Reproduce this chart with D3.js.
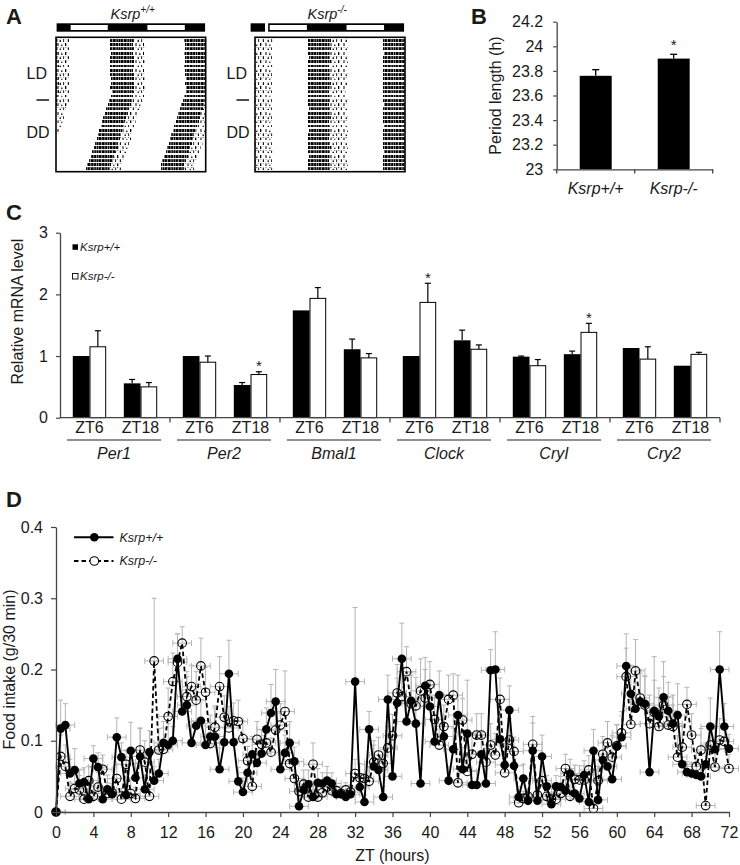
<!DOCTYPE html>
<html>
<head>
<meta charset="utf-8">
<script src="https://cdn.jsdelivr.net/npm/d3@7/dist/d3.min.js"></script>
<style>
body{margin:0;background:#fff;}
svg{display:block;}
text{font-family:"Liberation Sans",Arial,Helvetica,sans-serif;fill:#1a1a1a;}
</style>
</head>
<body>
<svg id="fig" width="740" height="865"></svg>
<script>
// ================= DATA =================
// Panel A: actogram activity bands (hours across a 48 h double plot), one entry per day row
const wtOnset  = [17.4,17.2,17.3,17.5,17.2,17.3,17.4,17.2,17.3,17.5,17.6,17.4,17.8,17.6,17.0,16.6,16.1,15.7,15.2,14.8,14.4,13.9,13.5,13.0,12.5,12.1,11.6,11.2,10.6,10.1,9.6];
const wtOffset = [24.8,24.6,25.0,24.7,24.9,25.1,24.6,24.8,24.9,25.0,24.7,24.9,24.8,24.6,24.3,23.9,23.5,23.0,22.6,22.1,21.8,21.3,20.9,20.4,19.9,19.6,19.0,18.7,18.2,17.6,17.2];
const koOnset  = [17.0,17.1,16.9,17.0,17.2,17.0,16.9,17.1,17.0,16.8,17.0,17.1,17.0,16.9,17.1,17.0,17.2,17.0,16.9,17.1,17.0,17.2,17.1,16.9,17.0,17.1,17.0,17.2,17.1,17.0,16.9];
const koOffset = [24.2,24.0,24.3,23.9,24.1,24.2,23.8,24.0,24.1,23.9,24.2,24.0,23.7,23.9,24.1,23.8,24.0,23.9,24.2,23.8,24.0,24.1,23.9,23.8,24.0,24.2,23.9,24.0,23.8,24.1,24.0];
const wtSparseTail = 3.5;
const koSparseTail = 5.5;
const lightsOn  = [4.7, 29.3];
const lightsOff = [16.6, 41.3];

// Panel B: free-running period
const genotypes   = ["Ksrp+/+", "Ksrp-/-"];
const periodMean  = [23.76, 23.90];
const periodErr   = [0.05, 0.035];
const periodTicks = [23, 23.2, 23.4, 23.6, 23.8, 24, 24.2];
const periodTickLabels = ["23", "23.2", "23.4", "23.6", "23.8", "24", "24.2"];

// Panel C: relative mRNA levels
const genes      = ["Per1", "Per2", "Bmal1", "Clock", "CryI", "Cry2"];
const timepoints = ["ZT6", "ZT18"];
const wtZT6      = [1.00, 1.00, 1.74, 1.00, 0.99, 1.13];
const wtZT6Err   = [0, 0, 0, 0, 0.01, 0];
const koZT6      = [1.15, 0.90, 1.935, 1.87, 0.843, 0.95];
const koZT6Err   = [0.26, 0.10, 0.175, 0.31, 0.10, 0.20];
const wtZT18     = [0.557, 0.53, 1.11, 1.255, 1.03, 0.843];
const wtZT18Err  = [0.063, 0.04, 0.165, 0.165, 0.05, 0];
const koZT18     = [0.50, 0.70, 0.97, 1.11, 1.384, 1.027];
const koZT18Err  = [0.07, 0.045, 0.07, 0.07, 0.146, 0.033];
const mrnaTicks  = [0, 1, 2, 3];
const starGene   = ["Per2", "Clock", "CryI"];
const starZT     = ["ZT18", "ZT6", "ZT18"];

// Panel D: food intake every 30 min
const ztHours = [0,0.5,1,1.5,2,2.5,3,3.5,4,4.5,5,5.5,6,6.5,7,7.5,8,8.5,9,9.5,10,10.5,11,11.5,12,12.5,13,13.5,14,14.5,15,15.5,16,16.5,17,17.5,18,18.5,19,19.5,20,20.5,21,21.5,22,22.5,23,23.5,24,24.5,25,25.5,26,26.5,27,27.5,28,28.5,29,29.5,30,30.5,31,31.5,32,32.5,33,33.5,34,34.5,35,35.5,36,36.5,37,37.5,38,38.5,39,39.5,40,40.5,41,41.5,42,42.5,43,43.5,44,44.5,45,45.5,46,46.5,47,47.5,48,48.5,49,49.5,50,50.5,51,51.5,52,52.5,53,53.5,54,54.5,55,55.5,56,56.5,57,57.5,58,58.5,59,59.5,60,60.5,61,61.5,62,62.5,63,63.5,64,64.5,65,65.5,66,66.5,67,67.5,68,68.5,69,69.5,70,70.5,71,71.5,72];
const wtIntake = [0,0.117,0.122,0.054,0.059,0.040,0.042,0.018,0.075,0.063,0.018,0.032,0.025,0.105,0.077,0.024,0.086,0.048,0.078,0.032,0.084,0.044,0.054,0.097,0.094,0.100,0.215,0.141,0.150,0.097,0.121,0.128,0.094,0.106,0.106,0.060,0.098,0.194,0.098,0.043,0.028,0.055,0.081,0.069,0.082,0.116,0.139,0.155,0.060,0.083,0.097,0.071,0.008,0.031,0.039,0.021,0.041,0.040,0.044,0.040,0.025,0.025,0.021,0.025,0.183,0.035,0.014,0.116,0.064,0.059,0.021,0.158,0.050,0.153,0.215,0.127,0.156,0.124,0.040,0.177,0.148,0.099,0.164,0.106,0.044,0.088,0.136,0.060,0.110,0.038,0.038,0.081,0.040,0.199,0.200,0.102,0.066,0.143,0.065,0.021,0.047,0.016,0.086,0.016,0.078,0.036,0.011,0.036,0.035,0.030,0.054,0.026,0.019,0.052,0.014,0.086,0.017,0.073,0.064,0.046,0.092,0.105,0.205,0.166,0.145,0.155,0.152,0.056,0.142,0.134,0.161,0.142,0.124,0.136,0.067,0.056,0.054,0.052,0.050,0.067,0.120,0.088,0.200,0.120,0.089];
const wtIntakeErr = [0.005,0.04,0.03,0.02,0.03,0.02,0.02,0.015,0.018,0.02,0.015,0.02,0.015,0.027,0.02,0.015,0.04,0.02,0.04,0.02,0.03,0.02,0.02,0.03,0.03,0.02,0.035,0.03,0.04,0.03,0.04,0.03,0.03,0.03,0.04,0.03,0.03,0.047,0.03,0.02,0.02,0.02,0.025,0.02,0.025,0.03,0.04,0.045,0.02,0.025,0.03,0.02,0.01,0.015,0.02,0.015,0.02,0.015,0.02,0.015,0.01,0.01,0.01,0.01,0.104,0.015,0.01,0.025,0.03,0.02,0.015,0.034,0.02,0.035,0.05,0.03,0.04,0.03,0.02,0.04,0.035,0.03,0.034,0.03,0.02,0.03,0.056,0.03,0.075,0.02,0.02,0.03,0.02,0.029,0.053,0.03,0.03,0.034,0.02,0.015,0.02,0.01,0.048,0.01,0.03,0.015,0.01,0.015,0.015,0.015,0.02,0.015,0.01,0.02,0.01,0.03,0.01,0.025,0.02,0.02,0.03,0.03,0.045,0.04,0.035,0.04,0.04,0.02,0.076,0.04,0.05,0.04,0.04,0.044,0.02,0.015,0.015,0.015,0.015,0.03,0.04,0.03,0.053,0.032,0.02];
const koIntake = [0,0.078,0.064,0.022,0.033,0.031,0.018,0.044,0.022,0.035,0.060,0.026,0.027,0.047,0.018,0.067,0.026,0.019,0.087,0.070,0.022,0.212,0.087,0.088,0.134,0.183,0.210,0.237,0.162,0.176,0.157,0.205,0.168,0.096,0.119,0.176,0.133,0.118,0.128,0.127,0.103,0.072,0.036,0.102,0.095,0.097,0.084,0.115,0.122,0.141,0.068,0.047,0.029,0.039,0.021,0.067,0.021,0.027,0.035,0.030,0.030,0.026,0.031,0.028,0.054,0.048,0.047,0.043,0.070,0.080,0.068,0.090,0.107,0.167,0.162,0.197,0.152,0.149,0.170,0.160,0.179,0.130,0.094,0.120,0.158,0.164,0.041,0.129,0.057,0.081,0.108,0.108,0.070,0.094,0.080,0.158,0.055,0.101,0.085,0.013,0.019,0.022,0.095,0.024,0.044,0.022,0.018,0.018,0.026,0.061,0.022,0.046,0.045,0.045,0.059,0.005,0.044,0.081,0.097,0.077,0.093,0.111,0.190,0.123,0.198,0.160,0.150,0.124,0.140,0.120,0.150,0.122,0.120,0.077,0.091,0.151,0.108,0.064,0.087,0.009,0.094,0.063,0.101,0.099,0.061];
const koIntakeErr = [0.005,0.03,0.03,0.02,0.02,0.02,0.02,0.02,0.015,0.02,0.02,0.015,0.02,0.02,0.015,0.02,0.02,0.015,0.03,0.03,0.015,0.088,0.03,0.03,0.04,0.04,0.04,0.023,0.035,0.03,0.04,0.039,0.035,0.03,0.03,0.042,0.03,0.03,0.025,0.03,0.025,0.02,0.02,0.025,0.02,0.02,0.02,0.03,0.03,0.057,0.02,0.02,0.015,0.02,0.015,0.03,0.015,0.015,0.02,0.015,0.01,0.01,0.01,0.01,0.02,0.02,0.02,0.02,0.03,0.025,0.02,0.03,0.03,0.04,0.04,0.035,0.04,0.04,0.045,0.04,0.032,0.03,0.03,0.03,0.034,0.03,0.02,0.03,0.02,0.03,0.03,0.03,0.02,0.03,0.03,0.03,0.02,0.03,0.02,0.01,0.01,0.01,0.03,0.01,0.02,0.01,0.01,0.01,0.015,0.02,0.01,0.02,0.02,0.02,0.02,0.005,0.02,0.025,0.03,0.03,0.03,0.03,0.04,0.035,0.044,0.04,0.04,0.04,0.045,0.04,0.04,0.04,0.03,0.03,0.03,0.024,0.03,0.02,0.03,0.005,0.03,0.02,0.03,0.03,0.02];
const ztTimeErr = 1;
const ztTicks   = [0,4,8,12,16,20,24,28,32,36,40,44,48,52,56,60,64,68,72];
const intakeTicks = [0, 0.1, 0.2, 0.3, 0.4];

// ================= DRAWING =================
const svg = d3.select("#fig");
const defs = svg.append("defs");
// textures for actogram activity (style only)
const pDense = defs.append("pattern").attr("id","dense").attr("patternUnits","userSpaceOnUse").attr("width",11).attr("height",8.6);
[[0,0,2.6,4.3],[3.2,0,2.4,4.3],[6.1,0,2.1,4.3],[8.7,0,1.8,4.3],[0,4.3,1.9,4.3],[2.6,4.3,3.1,4.3],[6.3,4.3,1.6,4.3],[8.4,4.3,2.2,4.3]]
  .forEach(([x,y,w,h]) => pDense.append("rect").attr("x",x).attr("y",y).attr("width",w).attr("height",h).attr("fill","#000"));
const pSparse = defs.append("pattern").attr("id","sparse").attr("patternUnits","userSpaceOnUse").attr("width",13).attr("height",8.6);
[[0,0,1.3,4.3],[5.5,0,1,4.3],[9.2,1.5,1.2,2.8],[2.8,4.3,1.1,4.3],[7.6,5.5,1.3,3.1],[11.2,4.3,0.9,4.3]]
  .forEach(([x,y,w,h]) => pSparse.append("rect").attr("x",x).attr("y",y).attr("width",w).attr("height",h).attr("fill","#000"));

function panelLetter(txt, x, y) {
  svg.append("text").attr("x", x).attr("y", y).attr("font-size", 22).attr("font-weight", "bold").attr("fill","#000").text(txt);
}

// ---------- Panel A ----------
panelLetter("A", 6, 23.5);
function actogram(x0, x1, onsets, offsets, tail) {
  const g = svg.append("g");
  const x = d3.scaleLinear().domain([0, 48]).range([x0, x1]);
  const y = d3.scaleBand().domain(d3.range(onsets.length)).range([38.4, 170.8]).paddingInner(0.32).paddingOuter(0.1);
  const n = onsets.length;
  onsets.forEach((on, r) => {
    const days = [
      {s: -24, on: onsets[Math.max(r - 1, 0)], off: offsets[Math.max(r - 1, 0)]},
      {s: 0, on: onsets[r], off: offsets[r]},
      {s: 24, on: onsets[Math.min(r + 1, n - 1)], off: offsets[Math.min(r + 1, n - 1)]}
    ];
    days.forEach(d => {
      [[d.on + d.s, d.off + d.s, "dense"], [d.off + d.s, d.off + d.s + tail, "sparse"]].forEach(([a, b, k]) => {
        const a2 = Math.max(0, a), b2 = Math.min(48, b);
        if (b2 > a2) {
          g.append("rect").attr("x", x(a2)).attr("y", y(r)).attr("width", x(b2) - x(a2))
            .attr("height", y.bandwidth()).attr("fill", `url(#${k})`).attr("shape-rendering", "crispEdges");
        }
      });
    });
  });
  g.append("rect").attr("x", x0).attr("y", 37.3).attr("width", x1 - x0).attr("height", 134.4)
    .attr("fill", "none").attr("stroke", "#000").attr("stroke-width", 1.6);
  return x;
}
function ldBar(x, a, b) {
  svg.append("rect").attr("x", x(a)).attr("y", 23.3).attr("width", x(b) - x(a)).attr("height", 8.4).attr("fill", "#000");
  lightsOn.forEach((on, i) => {
    const s = Math.max(on, a + 0.3), e = Math.min(lightsOff[i], b);
    svg.append("rect").attr("x", x(s)).attr("y", 25).attr("width", x(e) - x(s)).attr("height", 5).attr("fill", "#fff");
  });
}
const xAL = actogram(56, 205.7, wtOnset, wtOffset, wtSparseTail);
const xAR = actogram(255, 405, koOnset, koOffset, koSparseTail);
ldBar(xAL, 0.2, 47.8);
svg.append("rect").attr("x", xAR(-1.4)).attr("y", 23.3).attr("width", xAR(3.2) - xAR(-1.4)).attr("height", 8.4).attr("fill", "#000");
ldBar(xAR, 4.2, 47.7);
function actoTitle(x, sup) {
  const t = svg.append("text").attr("x", x).attr("y", 18.5).attr("font-size", 14.5).attr("font-style", "italic");
  t.append("tspan").text("Ksrp");
  t.append("tspan").attr("font-size", 10).attr("dy", -5.5).text(sup);
}
actoTitle(110.5, "+/+");
actoTitle(307.5, "-/-");
[26.5, 226.5].forEach(x => {
  svg.append("text").attr("x", x).attr("y", 78.5).attr("font-size", 16).text("LD");
  svg.append("text").attr("x", x).attr("y", 137.5).attr("font-size", 16).text("DD");
  svg.append("line").attr("x1", x + 10).attr("x2", x + 22.5).attr("y1", 100).attr("y2", 100).attr("stroke", "#000").attr("stroke-width", 1.4);
});

// ---------- Panel B ----------
panelLetter("B", 471, 23.5);
const xB = d3.scaleBand().domain(genotypes).range([556.7, 712.7]).paddingInner(0.59).paddingOuter(0.295);
const yB = d3.scaleLinear().domain([23, 24.2]).range([169.3, 21.7]);
const gB = svg.append("g");
gB.selectAll("rect.bar").data(genotypes).join("rect").attr("class", "bar")
  .attr("x", d => xB(d)).attr("width", xB.bandwidth())
  .attr("y", (d, i) => yB(periodMean[i])).attr("height", (d, i) => yB(23) - yB(periodMean[i])).attr("fill", "#000");
genotypes.forEach((d, i) => {
  const cx = xB(d) + xB.bandwidth() / 2;
  gB.append("line").attr("x1", cx).attr("x2", cx).attr("y1", yB(periodMean[i])).attr("y2", yB(periodMean[i] + periodErr[i])).attr("stroke", "#000").attr("stroke-width", 1.3);
  gB.append("line").attr("x1", cx - 3.5).attr("x2", cx + 3.5).attr("y1", yB(periodMean[i] + periodErr[i])).attr("y2", yB(periodMean[i] + periodErr[i])).attr("stroke", "#000").attr("stroke-width", 1.3);
});
gB.append("text").attr("x", xB("Ksrp-/-") + xB.bandwidth() / 2).attr("y", yB(periodMean[1] + periodErr[1]) - 4.5).attr("text-anchor", "middle").attr("font-size", 15).attr("fill", "#000").text("*");
gB.append("g").attr("transform", "translate(556.7,0)")
  .call(d3.axisLeft(yB).tickValues(periodTicks).tickFormat((d, i) => periodTickLabels[i]).tickSize(3.5).tickSizeOuter(0).tickPadding(10));
const axBX = gB.append("g").attr("transform", "translate(0,169.3)")
  .call(d3.axisBottom(xB).tickSize(0).tickPadding(13));
[556.7, 634.7, 712.7].forEach(x => gB.append("line").attr("x1", x).attr("x2", x).attr("y1", 169.3).attr("y2", 173.5).attr("stroke", "#444").attr("stroke-width", 1.3));
gB.append("text").attr("transform", "translate(500.5,95.5) rotate(-90)").attr("text-anchor", "middle").attr("font-size", 16).text("Period length (h)");

// ---------- Panel C ----------
panelLetter("C", 6, 220);
const x0C = d3.scaleBand().domain(genes).range([60, 720]).padding(0);
const x1C = d3.scalePoint().domain(timepoints).range([0, x0C.bandwidth()]).padding(0.578);
const yC = d3.scaleLinear().domain([0, 3]).range([417.7, 232.7]);
const barW = 16.7;
const gC = svg.append("g");
const cSeries = [
  {zt: "ZT6", v: wtZT6, e: wtZT6Err, off: -barW, fill: "#000"},
  {zt: "ZT6", v: koZT6, e: koZT6Err, off: 0, fill: "#fff"},
  {zt: "ZT18", v: wtZT18, e: wtZT18Err, off: -barW, fill: "#000"},
  {zt: "ZT18", v: koZT18, e: koZT18Err, off: 0, fill: "#fff"}
];
cSeries.forEach(s => {
  gC.selectAll(null).data(genes).join("rect")
    .attr("x", d => x0C(d) + x1C(s.zt) + s.off + (s.fill === "#fff" ? 0.5 : 0))
    .attr("width", barW - (s.fill === "#fff" ? 1 : 0))
    .attr("y", (d, i) => yC(s.v[i]))
    .attr("height", (d, i) => yC(0) - yC(s.v[i]))
    .attr("fill", s.fill).attr("stroke", s.fill === "#fff" ? "#000" : "none").attr("stroke-width", 1);
  genes.forEach((g, i) => {
    if (s.e[i] <= 0) return;
    const cx = x0C(g) + x1C(s.zt) + s.off + barW / 2;
    gC.append("line").attr("x1", cx).attr("x2", cx).attr("y1", yC(s.v[i])).attr("y2", yC(s.v[i] + s.e[i])).attr("stroke", "#000").attr("stroke-width", 1.2);
    gC.append("line").attr("x1", cx - 3).attr("x2", cx + 3).attr("y1", yC(s.v[i] + s.e[i])).attr("y2", yC(s.v[i] + s.e[i])).attr("stroke", "#000").attr("stroke-width", 1.2);
  });
});
starGene.forEach((g, k) => {
  const gi = genes.indexOf(g);
  const v = starZT[k] === "ZT6" ? koZT6[gi] + koZT6Err[gi] : koZT18[gi] + koZT18Err[gi];
  gC.append("text").attr("x", x0C(g) + x1C(starZT[k]) + barW / 2).attr("y", yC(v) - 0.5).attr("text-anchor", "middle").attr("font-size", 15).attr("fill", "#000").text("*");
});
gC.append("g").attr("transform", "translate(60,0)")
  .call(d3.axisLeft(yC).tickValues(mrnaTicks).tickFormat(d3.format("d")).tickSize(4).tickSizeOuter(0).tickPadding(8));
gC.append("line").attr("x1", 60).attr("x2", 720).attr("y1", 417.7).attr("y2", 417.7).attr("stroke", "#444").attr("stroke-width", 1.3);
genes.forEach(g => {
  const xe = x0C(g) + x0C.bandwidth();
  gC.append("line").attr("x1", xe).attr("x2", xe).attr("y1", 417.7).attr("y2", 422.5).attr("stroke", "#444").attr("stroke-width", 1.3);
  timepoints.forEach(t => gC.append("text").attr("x", x0C(g) + x1C(t)).attr("y", 433).attr("text-anchor", "middle").attr("font-size", 16).text(t));
  const cx = x0C(g) + x0C.bandwidth() / 2 - 1;
  gC.append("line").attr("x1", cx - 47).attr("x2", cx + 47).attr("y1", 440).attr("y2", 440).attr("stroke", "#222").attr("stroke-width", 1.1);
  gC.append("text").attr("x", cx).attr("y", 459).attr("text-anchor", "middle").attr("font-size", 16).attr("font-style", "italic").text(g);
});
gC.append("text").attr("transform", "translate(23.3,311.7) rotate(-90)").attr("text-anchor", "middle").attr("font-size", 16).text("Relative mRNA level");
gC.append("rect").attr("x", 72.5).attr("y", 244.3).attr("width", 5.5).attr("height", 5.5).attr("fill", "#000");
gC.append("text").attr("x", 80).attr("y", 250.5).attr("font-size", 11.5).attr("font-style", "italic").text("Ksrp+/+");
gC.append("rect").attr("x", 72.5).attr("y", 273.5).attr("width", 5.5).attr("height", 5.5).attr("fill", "#fff").attr("stroke", "#000").attr("stroke-width", 0.9);
gC.append("text").attr("x", 80).attr("y", 279.8).attr("font-size", 11.5).attr("font-style", "italic").text("Ksrp-/-");

// ---------- Panel D ----------
panelLetter("D", 6, 507);
const xD = d3.scaleLinear().domain([0, 72]).range([56, 729]);
const yD = d3.scaleLinear().domain([0, 0.4]).range([812, 527]);
const gD = svg.append("g");
const errCol = "#b5b5b5";
function errBars(vals, errs) {
  ztHours.forEach((t, i) => {
    const px = xD(t), py = yD(vals[i]), pt = yD(vals[i] + errs[i]);
    const xl = xD(Math.max(0, t - ztTimeErr)), xr = xD(t + ztTimeErr);
    gD.append("line").attr("x1", xl).attr("x2", xr).attr("y1", py).attr("y2", py).attr("stroke", errCol).attr("stroke-width", 1);
    if (t - ztTimeErr >= 0) gD.append("line").attr("x1", xl).attr("x2", xl).attr("y1", py - 3).attr("y2", py + 3).attr("stroke", errCol).attr("stroke-width", 1);
    gD.append("line").attr("x1", xr).attr("x2", xr).attr("y1", py - 3).attr("y2", py + 3).attr("stroke", errCol).attr("stroke-width", 1);
    gD.append("line").attr("x1", px).attr("x2", px).attr("y1", py).attr("y2", pt).attr("stroke", errCol).attr("stroke-width", 1);
    gD.append("line").attr("x1", px - 2.5).attr("x2", px + 2.5).attr("y1", pt).attr("y2", pt).attr("stroke", errCol).attr("stroke-width", 1);
  });
}
errBars(koIntake, koIntakeErr);
errBars(wtIntake, wtIntakeErr);
const lineD = vals => d3.line().x((t) => xD(t)).y((t, i) => yD(vals[i]))(ztHours);
gD.append("path").attr("d", lineD(koIntake)).attr("fill", "none").attr("stroke", "#000").attr("stroke-width", 1.8).attr("stroke-dasharray", "4.5,3");
gD.append("path").attr("d", lineD(wtIntake)).attr("fill", "none").attr("stroke", "#000").attr("stroke-width", 1.9);
gD.selectAll("circle.ko").data(ztHours).join("circle").attr("class", "ko")
  .attr("cx", t => xD(t)).attr("cy", (t, i) => yD(koIntake[i])).attr("r", 4.3)
  .attr("fill", "none").attr("stroke", "#000").attr("stroke-width", 1.1);
gD.selectAll("circle.wt").data(ztHours).join("circle").attr("class", "wt")
  .attr("cx", t => xD(t)).attr("cy", (t, i) => yD(wtIntake[i])).attr("r", 4.3).attr("fill", "#000");
gD.append("g").attr("transform", "translate(0,812)")
  .call(d3.axisBottom(xD).tickValues(ztTicks).tickFormat(d3.format("d")).tickSize(5).tickSizeOuter(0).tickPadding(10));
gD.append("g").attr("transform", "translate(56,0)")
  .call(d3.axisLeft(yD).tickValues(intakeTicks).tickFormat(d => d === 0 ? "0" : d3.format(".1f")(d)).tickSize(5).tickSizeOuter(0).tickPadding(8));
gD.append("text").attr("x", xD(36)).attr("y", 861).attr("text-anchor", "middle").attr("font-size", 16).text("ZT (hours)");
gD.append("text").attr("transform", "translate(15,669.5) rotate(-90)").attr("text-anchor", "middle").attr("font-size", 16).text("Food intake (g/30 min)");
gD.append("line").attr("x1", 74).attr("x2", 113.5).attr("y1", 537.3).attr("y2", 537.3).attr("stroke", "#000").attr("stroke-width", 1.9);
gD.append("circle").attr("cx", 94.3).attr("cy", 537.3).attr("r", 4.3).attr("fill", "#000");
gD.append("text").attr("x", 119.5).attr("y", 541.5).attr("font-size", 12.5).attr("font-style", "italic").text("Ksrp+/+");
gD.append("line").attr("x1", 74).attr("x2", 113.5).attr("y1", 561).attr("y2", 561).attr("stroke", "#000").attr("stroke-width", 1.8).attr("stroke-dasharray", "4.5,3");
gD.append("circle").attr("cx", 94.3).attr("cy", 561).attr("r", 4.3).attr("fill", "#fff").attr("stroke", "#000").attr("stroke-width", 1.1);
gD.append("text").attr("x", 119.5).attr("y", 565.2).attr("font-size", 12.5).attr("font-style", "italic").text("Ksrp-/-");

// axis styling
svg.selectAll(".domain").attr("stroke", "#444").attr("stroke-width", 1.3);
svg.selectAll(".tick line").attr("stroke", "#444").attr("stroke-width", 1.2);
svg.selectAll(".tick text").attr("font-size", 16).attr("fill", "#1a1a1a").attr("font-family", '"Liberation Sans",Arial,Helvetica,sans-serif');
axBX.selectAll(".tick text").attr("font-style", "italic");
</script>
</body>
</html>
